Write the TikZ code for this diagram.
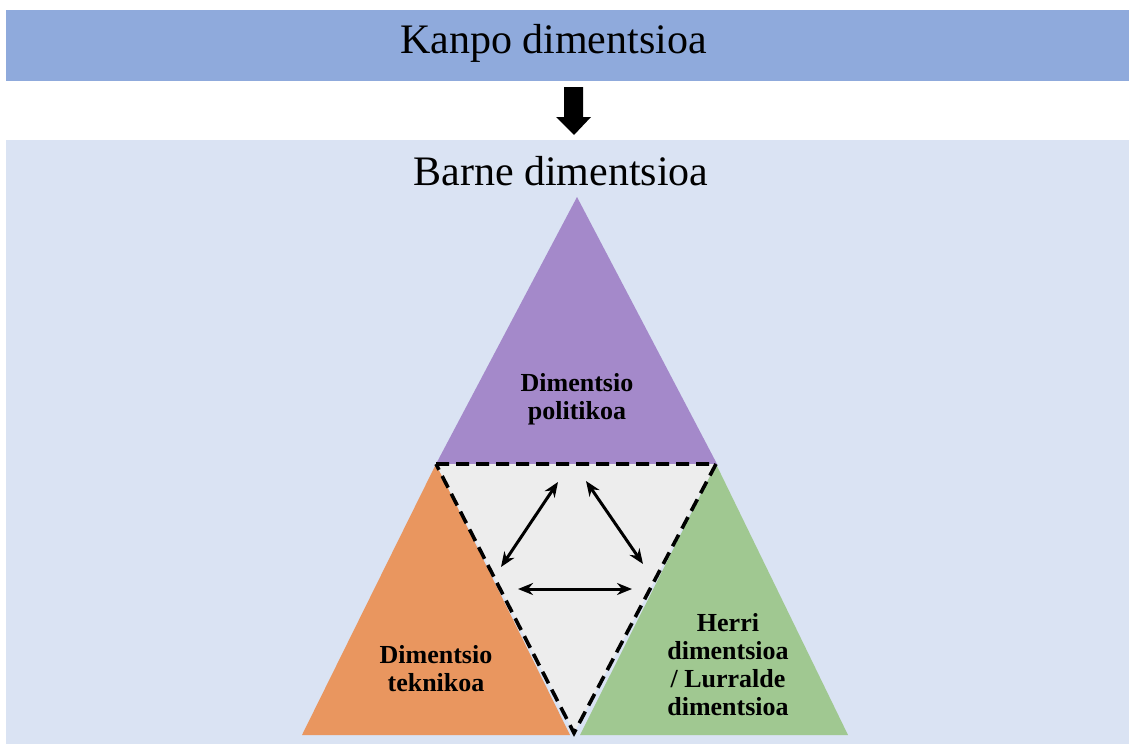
\documentclass[tikz,border=0pt]{standalone}
\usepackage{fontspec}
\setmainfont{Liberation Serif}
\usetikzlibrary{arrows.meta}
\definecolor{bandblue}{RGB}{143,170,220}
\definecolor{lightbg}{RGB}{218,227,243}
\definecolor{purp}{RGB}{164,137,202}
\definecolor{orng}{RGB}{233,150,95}
\definecolor{grn}{RGB}{160,200,145}
\definecolor{midgrey}{RGB}{237,237,237}
\tikzset{
  bigtitle/.style={font=\fontsize{42}{48}\selectfont, inner sep=0pt, anchor=base},
  lbl/.style={font=\bfseries\fontsize{26}{28}\selectfont, align=center, inner sep=0pt},
  twoway/.style={{Stealth[length=15pt,width=12pt]}-{Stealth[length=15pt,width=12pt]}, line width=3pt},
  dashborder/.style={draw=black, line width=3.6pt, dash pattern=on 13pt off 7pt}
}
\begin{document}
\begin{tikzpicture}[x=1pt,y=-1pt]
\useasboundingbox (0,0) rectangle (1129,744);
\fill[white] (0,0) rectangle (1129,744);
% bands
\fill[bandblue] (6,10) rectangle (1129,81);
\fill[lightbg] (6,140) rectangle (1129,744);
\node[bigtitle] (kanpo) at (553.5,53) {Kanpo dimentsioa};
\node[bigtitle] (barne) at (561,185) {Barne dimentsioa};
% big arrow
\fill[black] (564,87) -- (583,87) -- (583,117) -- (591,117) -- (574,135) -- (556,117) -- (564,117) -- cycle;
% triangles
\fill[purp] (577,197) -- (717,464) -- (436,464) -- cycle;
\fill[orng] (436,464) -- (570,735) -- (302,735) -- cycle;
\fill[grn] (716,464) -- (848,735) -- (580,735) -- cycle;
\fill[midgrey] (436,464) -- (716,464) -- (574,733) -- cycle;
\draw[dashborder] (436,464) -- (716,464) -- (574,733) -- cycle;
% labels
\node[lbl] (pol) at (577,399) {Dimentsio\\politikoa};
\node[lbl] (tek) at (436,669) {Dimentsio\\teknikoa};
\node[lbl] (her) at (728,665) {Herri\\dimentsioa\\/ Lurralde\\dimentsioa};
% connectors
\coordinate (a1) at (558,482);
\coordinate (a2) at (501,567);
\coordinate (b1) at (586,481);
\coordinate (b2) at (643,564);
\coordinate (c1) at (518,589);
\coordinate (c2) at (632,589);
\draw[twoway] (a1) -- (a2);
\draw[twoway] (b1) -- (b2);
\draw[twoway] (c1) -- (c2);
\end{tikzpicture}
\end{document}
